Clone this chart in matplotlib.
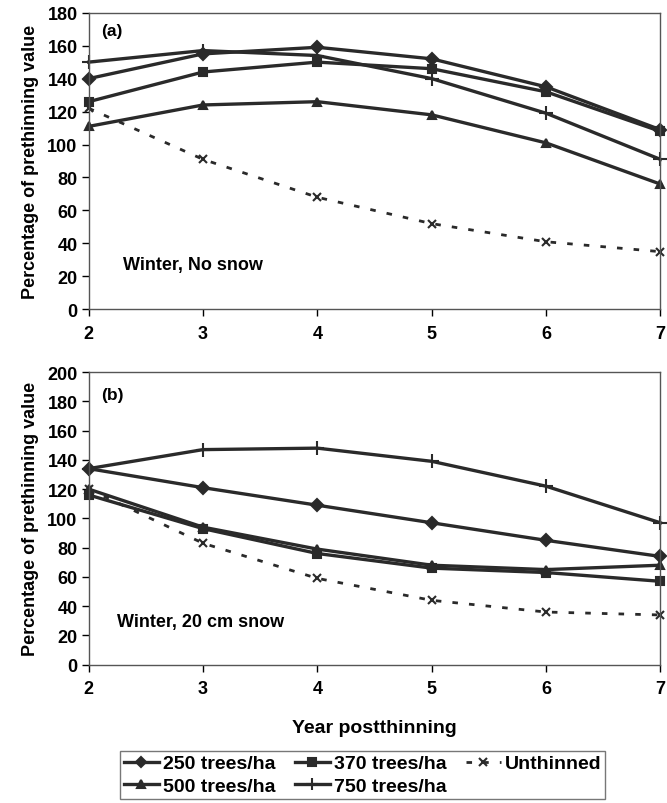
import matplotlib.pyplot as plt

plt.rc("font", family="Liberation Sans", weight="bold", size=13)

years = [2, 3, 4, 5, 6, 7]

# panel (a): winter, no snow
a_250 = [140, 155, 159, 152, 135, 109]
a_370 = [126, 144, 150, 146, 132, 108]
a_500 = [111, 124, 126, 118, 101, 76]
a_750 = [150, 157, 154, 140, 119, 91]
a_unth = [122, 91, 68, 52, 41, 35]

# panel (b): winter, 20 cm snow
b_250 = [134, 121, 109, 97, 85, 74]
b_370 = [116, 93, 76, 66, 63, 57]
b_500 = [120, 94, 79, 68, 65, 68]
b_750 = [134, 147, 148, 139, 122, 97]
b_unth = [120, 83, 59, 44, 36, 34]

labels = ["250 trees/ha", "370 trees/ha", "500 trees/ha", "750 trees/ha", "Unthinned"]
markers = ["D", "s", "^", "+", "x"]
col = "#2a2a2a"

fig = plt.figure(figsize=(6.67, 8.04), dpi=100)
ax0 = fig.add_axes([0.133, 0.614, 0.857, 0.369])
ax1 = fig.add_axes([0.133, 0.172, 0.857, 0.364])


def draw(ax, series, ymax, label, note, note_xy):
    handles = []
    for vals, lab, mkr in zip(series, labels, markers):
        dashed = lab == "Unthinned"
        h, = ax.plot(
            years,
            vals,
            c=col,
            linewidth=2.4 if not dashed else 2.0,
            linestyle=(0, (2, 4)) if dashed else "-",
            marker=mkr,
            markersize=6 if mkr != "+" else 10,
            markeredgewidth=1.5,
            label=lab,
            clip_on=False,
        )
        handles.append(h)
    ax.set_xlim(2, 7)
    ax.set_ylim(0, ymax)
    ax.set_xticks(years)
    ax.set_yticks(range(0, ymax + 1, 20))
    ax.tick_params(axis="y", direction="out", length=5, width=1, labelsize=13, pad=3)
    ax.tick_params(axis="x", direction="out", length=5, width=1, labelsize=13, pad=6)
    for s in ax.spines.values():
        s.set_color("#555555")
        s.set_linewidth(1)
    ax.text(0.022, label[1], label[0], transform=ax.transAxes, fontsize=12.5,
            fontweight="bold", va="center")
    ax.text(note_xy[0], note_xy[1], note, transform=ax.transAxes, fontsize=13,
            fontweight="bold", va="center")
    ax.set_ylabel("Percentage of prethinning value", fontsize=13, fontweight="bold", labelpad=6)
    return handles


h = draw(ax0, [a_250, a_370, a_500, a_750, a_unth], 180, ("(a)", 0.94),
         "Winter, No snow", (0.06, 0.152))
draw(ax1, [b_250, b_370, b_500, b_750, b_unth], 200, ("(b)", 0.925),
     "Winter, 20 cm snow", (0.05, 0.147))
ax1.set_xlabel("Year postthinning", fontsize=14, fontweight="bold", labelpad=16)

order = [h[0], h[2], h[1], h[3], h[4]]
leg = fig.legend(
    order,
    [x.get_label() for x in order],
    loc="upper left",
    bbox_to_anchor=(0.18, 0.0647),
    ncol=3,
    frameon=True,
    fancybox=False,
    edgecolor="#555555",
    fontsize=14,
    handlelength=1.8,
    handletextpad=0.2,
    columnspacing=1.0,
    labelspacing=0.25,
    borderpad=0.2,
    borderaxespad=0,
    markerscale=0.85,
)
leg.get_frame().set_linewidth(1)

fig.savefig("out.png", dpi=100)
